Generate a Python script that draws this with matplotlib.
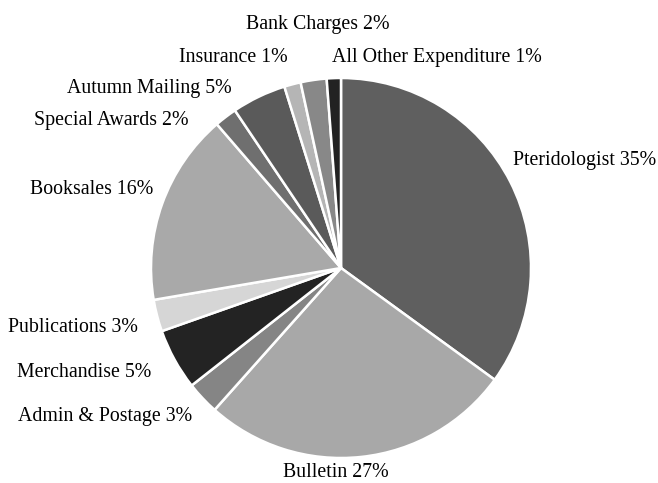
import matplotlib
matplotlib.use('Agg')
import matplotlib.pyplot as plt

# expenditure categories, clockwise from 12 o'clock
categories = ['Pteridologist', 'Bulletin', 'Admin & Postage', 'Merchandise',
              'Publications', 'Booksales', 'Special Awards', 'Autumn Mailing',
              'Insurance', 'Bank Charges', 'All Other Expenditure']
# share of expenditure (%)
shares = [34.9, 26.5, 2.8, 5.2, 2.7, 16.3, 1.9, 4.6, 1.4, 2.2, 1.2]
# percentages printed on the labels
pct_labels = [35, 27, 3, 5, 3, 16, 2, 5, 1, 2, 1]

colors = ['#5f5f5f', '#a8a8a8', '#858585', '#232323', '#d6d6d6', '#a9a9a9',
          '#6f6f6f', '#5a5a5a', '#b5b5b5', '#888888', '#222222']

# label anchor (axes data units, pie radius = 1) and horizontal alignment
label_pos = [(0.905, 0.567, 'left'), (-0.029, -1.074, 'center'),
             (-0.784, -0.780, 'right'), (-1.0, -0.549, 'right'),
             (-1.068, -0.312, 'right'), (-0.989, 0.414, 'right'),
             (-0.805, 0.777, 'right'), (-0.574, 0.946, 'right'),
             (-0.279, 1.109, 'right'), (-0.5, 1.283, 'left'),
             (-0.047, 1.109, 'left')]

plt.rcParams['font.family'] = ['Liberation Serif', 'DejaVu Serif']

fig = plt.figure(figsize=(6.58, 4.83), dpi=100)
ax = fig.add_axes([0, 0, 1, 1])
ax.pie(shares, colors=colors, startangle=90, counterclock=False,
       wedgeprops=dict(edgecolor='white', linewidth=1.8))

for name, pct, (x, y, ha) in zip(categories, pct_labels, label_pos):
    ax.text(x, y, f'{name} {pct}%', ha=ha, va='center', fontsize=14.3,
            color='black')

ax.set_xlim(-341 / 190, (658 - 341) / 190)
ax.set_ylim(-(483 - 268) / 190, 268 / 190)
ax.set_aspect('equal')
ax.axis('off')

fig.savefig('out.png', dpi=100, facecolor='white')
plt.close(fig)
